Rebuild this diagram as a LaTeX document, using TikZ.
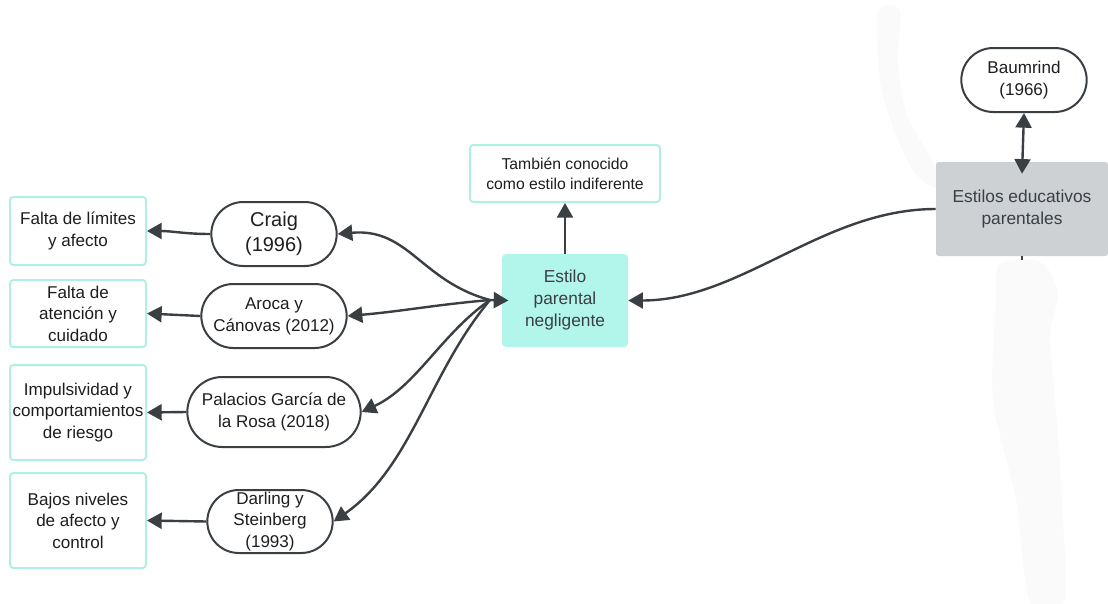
\documentclass[tikz,border=0pt]{standalone}
\usepackage{fontspec}
\setmainfont{Liberation Sans}
\usetikzlibrary{arrows.meta,shapes.misc}
\definecolor{ink}{HTML}{3A3F44}
\definecolor{txt}{HTML}{1E1E1E}
\definecolor{mint}{HTML}{B2F5EA}
\definecolor{mintline}{HTML}{B0F0E4}
\definecolor{slate}{HTML}{CDD1D4}
\definecolor{haze}{HTML}{FAFAFA}
\tikzset{
  pill/.style={rounded rectangle, draw=ink, line width=1.5pt, fill=white,
    text=txt, align=center, inner sep=1pt, font=\fontsize{12.8}{16.5}\selectfont},
  outcome/.style={rectangle, rounded corners=2.5pt, draw=mintline, line width=1.5pt,
    fill=white, text=txt, align=center, minimum width=102pt, inner sep=1pt,
    font=\fontsize{12.8}{16.2}\selectfont},
  link/.style={draw=ink, line width=1.8pt, -{Triangle[length=11pt,width=12pt]}},
}
\begin{document}
\begin{tikzpicture}[x=0.75pt, y=-0.75pt]
\useasboundingbox (0,0) rectangle (1108,604);
% soft brush strokes behind the right-hand side
\fill[haze] plot[smooth cycle] coordinates {(878,12) (900,10) (898,60) (906,112) (926,150) (938,172) (936,188) (914,172) (894,130) (880,80)};
\fill[haze] plot[smooth cycle] coordinates {(1000,264) (1040,262) (1058,292) (1050,335) (1056,410) (1062,500) (1064,602) (1030,603) (1016,500) (993,400) (996,300)};

% main nodes
\node[pill, minimum width=96pt, minimum height=48pt] (baum) at (1024,80) {Baumrind\\(1966)};
\node[rectangle, rounded corners=2pt, fill=slate, text=ink, align=center,
  minimum width=129pt, minimum height=70.5pt, font=\fontsize{13}{16.5}\selectfont]
  (est) at (1022,209) {Estilos educativos\\parentales};
\node[rectangle, rounded corners=3pt, fill=mint, text=ink, align=center,
  minimum width=94.5pt, minimum height=69.75pt, font=\fontsize{13}{16.5}\selectfont]
  (neg) at (565,300.5) {Estilo\\parental\\negligente};
\node[outcome, minimum width=142.5pt, minimum height=42.75pt,
  font=\fontsize{11.8}{15}\selectfont] (tamb) at (565,173.5) {También conocido\\como estilo indiferente};

% authors
\node[pill, minimum width=96pt, minimum height=48pt, font=\fontsize{15}{18.8}\selectfont]
  (craig) at (274,234) {Craig\\(1996)};
\node[pill, minimum width=111pt, minimum height=48pt] (aroca) at (274,316) {Aroca y\\Cánovas (2012)};
\node[pill, minimum width=132pt, minimum height=52.5pt] (pal) at (274,412) {Palacios García de\\la Rosa (2018)};
\node[pill, minimum width=96pt, minimum height=47.25pt, font=\fontsize{12.8}{16}\selectfont]
  (dar) at (270,521.5) {Darling y\\Steinberg\\(1993)};

% outcomes
\node[outcome, minimum height=51pt] (b1) at (78,231) {Falta de límites\\y afecto};
\node[outcome, minimum height=50.25pt] (b2) at (78,313.5) {Falta de\\atención y\\cuidado};
\node[outcome, minimum height=71.25pt] (b3) at (78,412.5) {Impulsividad y\\comportamientos\\de riesgo};
\node[outcome, minimum height=71.25pt] (b4) at (78,520.5) {Bajos niveles\\de afecto y\\control};

% connectors
\coordinate (estin) at ([yshift=-9]est.north);
\draw[link, {Triangle[length=11pt,width=12pt]}-{Triangle[length=11pt,width=12pt]}] (baum.south) -- (estin);
\draw[draw=ink, line width=1pt] (est.south) -- ++(0,4);
\draw[link] (est.west) to[out=180, in=0, looseness=0.9] (neg.east);
\draw[link] (neg.north) -- (tamb.south);

\coordinate (hub) at (490,300);
\coordinate (negin) at ([xshift=5]neg.west);
\draw[link] (hub) -- (negin);
\draw[link] (hub) to[out=165, in=5, looseness=1.1] (craig.east);
\draw[link] (hub) to[out=185, in=5] (aroca.east);
\draw[link] (hub) to[out=215, in=25, looseness=0.9] (pal.east);
\draw[link] (hub) to[out=230, in=35, looseness=0.9] (dar.east);

\draw[link] (craig.west) to[out=180, in=0] (b1.east);
\draw[link] (aroca.west) -- (b2.east);
\draw[link] (pal.west) -- (b3.east);
\draw[link] (dar.west) -- (b4.east);
\end{tikzpicture}
\end{document}
